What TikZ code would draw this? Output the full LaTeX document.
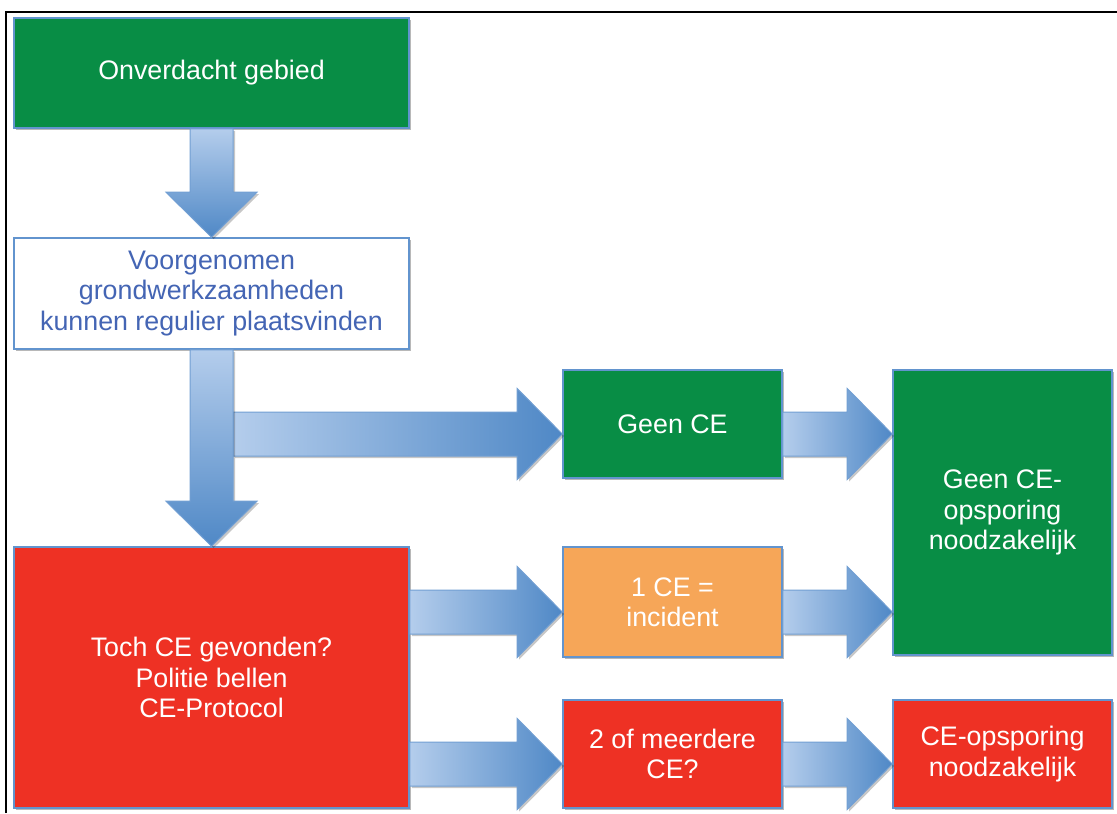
\documentclass[tikz,border=0pt]{standalone}
\usepackage{fontspec}
\setmainfont{Liberation Sans}
\usetikzlibrary{calc, shadows}

\definecolor{cegreen}{HTML}{088D45}
\definecolor{cered}{HTML}{EE3124}
\definecolor{ceorange}{HTML}{F6A658}
\definecolor{ceborder}{HTML}{6294CE}
\definecolor{cetext}{HTML}{4465B4}
\definecolor{arrowlight}{HTML}{B4CDEC}
\definecolor{arrowdark}{HTML}{4F88C6}

% fat arrow to the right, from x of #1 to the point #2
\newcommand{\rightblock}[2]{%
  \path[blockarrow, left color=arrowlight, right color=arrowdark]
    let \p1=(#1), \p2=(#2) in
    (\x1,\y2-5pt+11pt) -- (\x2-22.5pt,\y2-5pt+11pt) -- (\x2-22.5pt,\y2-5pt+22.75pt) -- (\x2,\y2-5pt)
    -- (\x2-22.5pt,\y2-5pt-22.75pt) -- (\x2-22.5pt,\y2-5pt-11pt) -- (\x1,\y2-5pt-11pt) -- cycle;}
% fat arrow downwards, from y of #1 to the point #2
\newcommand{\downblock}[2]{%
  \path[blockarrow, top color=arrowlight, bottom color=arrowdark]
    let \p1=(#1), \p2=(#2) in
    (\x2-10.75pt,\y1) -- (\x2-10.75pt,\y2+22.5pt) -- (\x2-22.75pt,\y2+22.5pt) -- (\x2,\y2)
    -- (\x2+22.75pt,\y2+22.5pt) -- (\x2+10.75pt,\y2+22.5pt) -- (\x2+10.75pt,\y1) -- cycle;}

\begin{document}
\begin{tikzpicture}[x=0.5pt, y=-0.5pt, every node/.style={font=\fontsize{13.4}{15.2}\selectfont}]
    \tikzstyle{box} = [rectangle, draw=ceborder, line width=0.8pt, text centered, align=center, inner sep=2pt,
     drop shadow={shadow xshift=1.2pt, shadow yshift=-1.2pt, fill=black, opacity=0.28}]
    \tikzstyle{greenbox} = [box, fill=cegreen, text=white]
    \tikzstyle{redbox} = [box, fill=cered, text=white]
    \tikzstyle{orangebox} = [box, fill=ceorange, text=white]
    \tikzstyle{whitebox} = [box, fill=white, text=cetext]
    \tikzstyle{wide} = [minimum width=197.5pt]
    \tikzstyle{narrow} = [minimum width=109.5pt]
    \tikzstyle{blockarrow} = [draw=ceborder!90, line width=0.5pt,
     drop shadow={shadow xshift=1pt, shadow yshift=-1pt, fill=black, opacity=0.22}]
    \useasboundingbox (0,0) rectangle (1117,813);
    % frame
    \draw[line width=1.2pt] (6,813) -- (6,12) -- (1117,12);
    % Nodes
    \node (onverdacht) [greenbox, wide, minimum height=55pt] at (211.5,73) {Onverdacht gebied};
    \node (voorgenomen) [whitebox, wide, minimum height=55.5pt] at (211.5,293.5) {Voorgenomen\\ grondwerkzaamheden\\ kunnen regulier plaatsvinden};
    \node (toch) [redbox, wide, minimum height=130.5pt] at (211.5,677.5) {Toch CE gevonden?\\ Politie bellen\\ CE-Protocol};
    \node (geence) [greenbox, narrow, minimum height=54pt] at (672.5,424) {Geen CE};
    \node (eence) [orangebox, narrow, minimum height=55pt] at (672.5,602) {1 CE =\\ incident};
    \node (meerdere) [redbox, narrow, minimum height=54pt] at (672.5,754) {2 of meerdere\\ CE?};
    \node (geenopsporing) [greenbox, narrow, minimum height=142.5pt] at (1002.5,512.5) {Geen CE-\\ opsporing\\ noodzakelijk};
    \node (opsporing) [redbox, narrow, minimum height=54pt] at (1002.5,754) {CE-opsporing\\ noodzakelijk};
    % Arrows
    \downblock{onverdacht.south}{voorgenomen.north}
    \rightblock{$(voorgenomen.south)+(10.75pt,0)$}{geence.west}
    \downblock{voorgenomen.south}{toch.north}
    \rightblock{geence.east}{geenopsporing.west |- geence}
    \rightblock{toch.east |- eence}{eence.west}
    \rightblock{eence.east}{geenopsporing.west |- eence}
    \rightblock{toch.east |- meerdere}{meerdere.west}
    \rightblock{meerdere.east}{opsporing.west}
\end{tikzpicture}
\end{document}
